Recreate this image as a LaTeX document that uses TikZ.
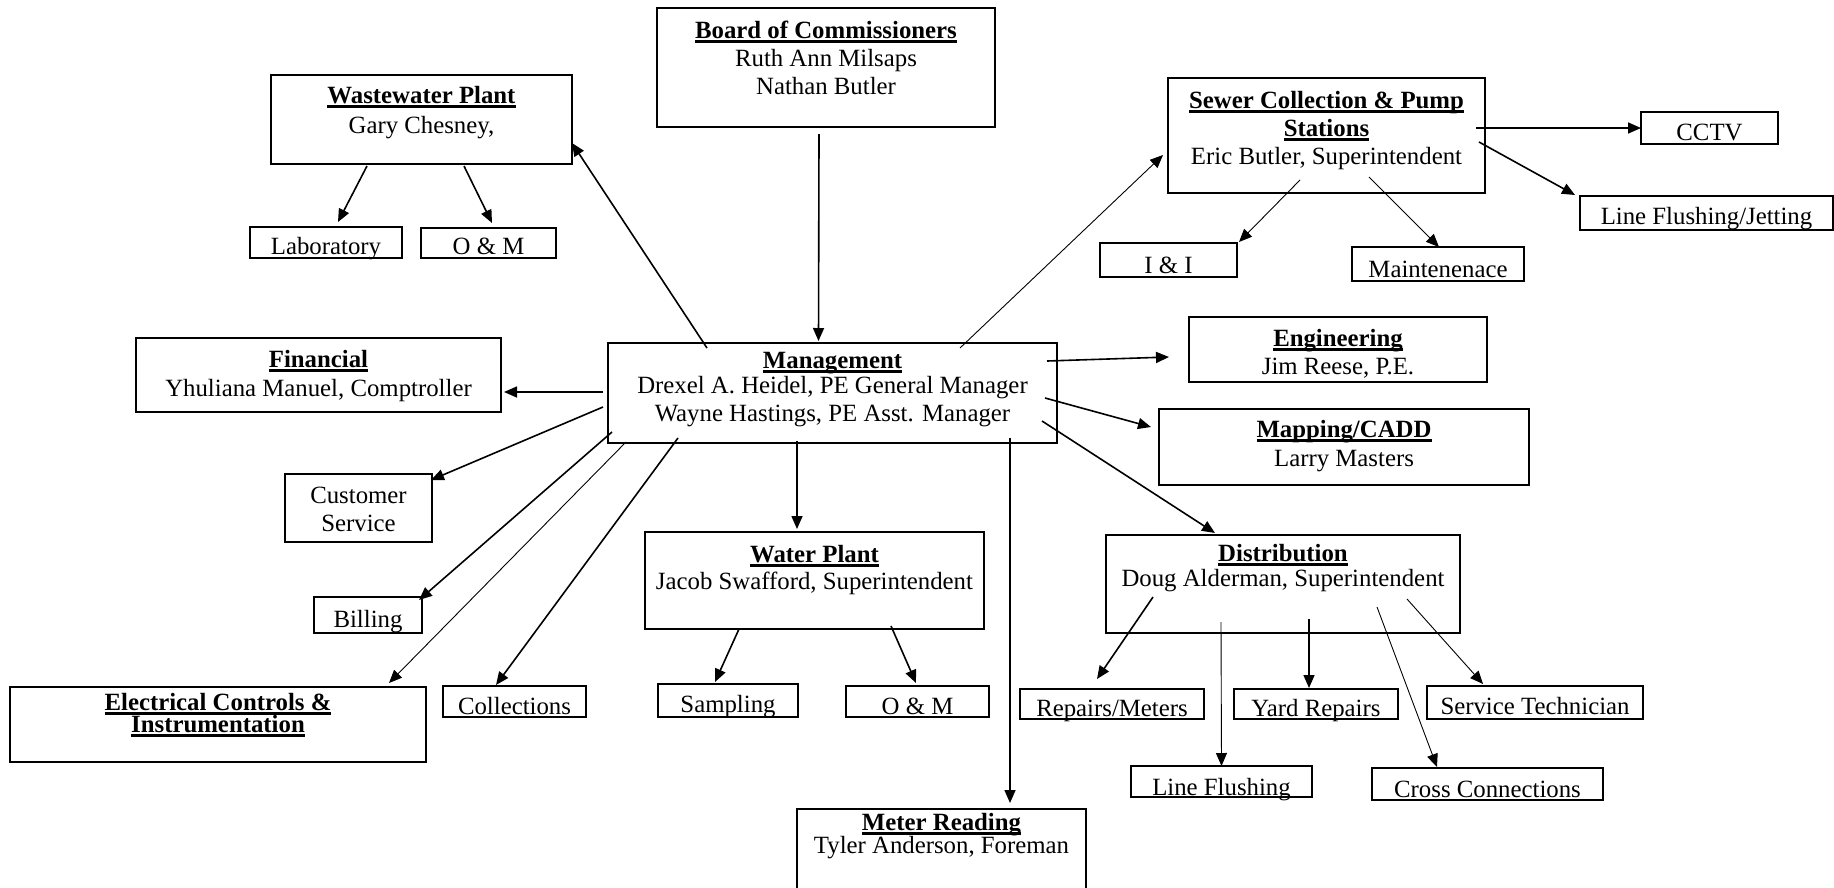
\documentclass[tikz,border=0pt]{standalone}
\usepackage{fontspec}
\setmainfont{Liberation Serif}
\usetikzlibrary{arrows.meta}
\newsavebox{\ttlbox}
\newcommand{\ttl}[1]{\sbox{\ttlbox}{\textbf{#1}}\rlap{\rule[-4.6pt]{\wd\ttlbox}{2.2pt}}\usebox{\ttlbox}}
\begin{document}
\begin{tikzpicture}[x=1pt,y=-1pt,
  unit/.style={draw, line width=1.6pt, inner sep=0pt, outer sep=0pt, align=center, font=\fontsize{24.8}{28}\selectfont},
  link/.style={line width=1.6pt, -{Triangle[length=13pt,width=11pt]}},
  thinlink/.style={link, line width=0.9pt}]
\useasboundingbox (0,0) rectangle (1834,887);
\node[unit, minimum width=338, text height=86, text depth=33](board) at (826,67.5){\ttl{Board of Commissioners}\\Ruth Ann Milsaps\\Nathan Butler};
\node[unit, minimum width=301, text height=58, text depth=31](ww) at (421.5,119.5){\ttl{Wastewater Plant}\\[2pt]Gary Chesney,};
\node[unit, minimum width=152, text height=27, text depth=4](lab) at (326,242.5){Laboratory};
\node[unit, minimum width=135, text height=26, text depth=4](wwom) at (488.5,243){O \& M};
\node[unit, minimum width=317, text height=86, text depth=29](sew) at (1326.5,135.5){\ttl{Sewer Collection \& Pump}\\\ttl{Stations}\\Eric Butler, Superintendent};
\node[unit, minimum width=137, text height=28, text depth=4](cctv) at (1709.5,128){CCTV};
\node[unit, minimum width=253, text height=28, text depth=6](lfj) at (1706.5,213){Line Flushing/Jetting};
\node[unit, minimum width=137, text height=30, text depth=4](ii) at (1168.5,260){I \& I};
\node[unit, minimum width=172, text height=30, text depth=4](mnt) at (1438,264){Maintenenace};
\node[unit, minimum width=365, text height=58, text depth=16](fin) at (318.5,375){\ttl{Financial}\\[1pt]Yhuliana Manuel, Comptroller};
\node[unit, minimum width=449, text height=78, text depth=22](mgmt) at (832.5,393){\ttl{Management}\\[-3pt]Drexel A. Heidel, PE General Manager\\Wayne Hastings, PE Asst. Manager};
\node[unit, minimum width=298, text height=57, text depth=8](eng) at (1338,349.5){\ttl{Engineering}\\Jim Reese, P.E.};
\node[unit, minimum width=370, text height=57, text depth=19](map) at (1344,447){\ttl{Mapping/CADD}\\[1pt]Larry Masters};
\node[unit, minimum width=147, text height=57, text depth=11](cs) at (358.5,508){Customer\\Service};
\node[unit, minimum width=339, text height=57, text depth=40](wp) at (814.5,580.5){\ttl{Water Plant}\\[-1pt]Jacob Swafford, Superintendent};
\node[unit, minimum width=354, text height=51, text depth=47](dist) at (1283,584){\ttl{Distribution}\\[-3pt]Doug Alderman, Superintendent};
\node[unit, minimum width=108, text height=30, text depth=6](bill) at (368,615){Billing};
\node[unit, minimum width=416, text height=45, text depth=30](elec) at (218,724.5){\ttl{Electrical Controls \&}\\[-6pt]\ttl{Instrumentation}};
\node[unit, minimum width=143, text height=28, text depth=3](coll) at (514.5,701.5){Collections};
\node[unit, minimum width=140, text height=28, text depth=5](samp) at (728,700.5){Sampling};
\node[unit, minimum width=143, text height=28, text depth=3](wpom) at (917.5,701.5){O \& M};
\node[unit, minimum width=184, text height=27, text depth=3](rep) at (1112,704){Repairs/Meters};
\node[unit, minimum width=164, text height=27, text depth=3](yard) at (1316,704){Yard Repairs};
\node[unit, minimum width=216, text height=28, text depth=5](svc) at (1535,702.5){Service Technician};
\node[unit, minimum width=181, text height=29, text depth=2](lfl) at (1221.5,781.5){Line Flushing};
\node[unit, minimum width=231, text height=29, text depth=3](cross) at (1487.5,784){Cross Connections};
\node[unit, minimum width=289, text height=44, text depth=38](meter) at (941.5,850){\ttl{Meter Reading}\\[-5pt]Tyler Anderson, Foreman};
\draw[link] ([shift={(-7,7)}]board.south) -- ([shift={(-14,-2)}]mgmt.north);
\draw[link] ([shift={(-125.5,5)}]mgmt.north) -- ([shift={(0,23.5)}]ww.east);
\draw[thinlink] ([shift={(127.5,5)}]mgmt.north) -- ([shift={(-5,19.5)}]sew.west);
\draw[link] ([shift={(-5,-1)}]mgmt.west) -- ([shift={(3,17)}]fin.east);
\draw[link] ([shift={(-5,14)}]mgmt.west) -- ([shift={(-1,6)}]cs.north east);
\draw[link] ([shift={(4,-11)}]mgmt.south west) -- ([shift={(-3,3)}]bill.north east);
\draw[thinlink] ([shift={(18,-1)}]mgmt.south west) -- ([shift={(-37,-4)}]elec.north east);
\draw[link] ([shift={(70,-5)}]mgmt.south west) -- ([shift={(-18.5,-1)}]coll.north);
\draw[link] ([shift={(-35.5,-2)}]mgmt.south) -- ([shift={(-17.5,-3)}]wp.north);
\draw[link] ([shift={(177.5,-5)}]mgmt.south) -- ([shift={(68.5,-6)}]meter.north);
\draw[link] ([shift={(-10,-32)}]mgmt.east) -- ([shift={(-20,7.5)}]eng.west);
\draw[link] ([shift={(-12,5)}]mgmt.east) -- ([shift={(-8,-20)}]map.west);
\draw[link] ([shift={(-15,28)}]mgmt.east) -- ([shift={(-68,-2)}]dist.north);
\draw[link] ([shift={(-54.5,2)}]ww.south) -- ([shift={(12,-5)}]lab.north);
\draw[link] ([shift={(42.5,2)}]ww.south) -- ([shift={(3.5,-5)}]wwom.north);
\draw[link] ([shift={(-9,-7.5)}]sew.east) -- (cctv.west);
\draw[link] ([shift={(-6,6.5)}]sew.east) -- ([shift={(-5,-1)}]lfj.north west);
\draw[thinlink] ([shift={(-26.5,-13)}]sew.south) -- ([shift={(2,-1)}]ii.north east);
\draw[thinlink] ([shift={(42.5,-16)}]sew.south) -- ([shift={(1,0)}]mnt.north);
\draw[link] ([shift={(-75.5,0)}]wp.south) -- ([shift={(-13,-2)}]samp.north);
\draw[link] ([shift={(76.5,-3)}]wp.south) -- ([shift={(-1.5,-3)}]wpom.north);
\draw[link] ([shift={(47,-36)}]dist.south west) -- ([shift={(-15,-10)}]rep.north);
\draw[thinlink] ([shift={(-62,-11)}]dist.south) -- (lfl.north);
\draw[link] ([shift={(26,-14)}]dist.south) -- ([shift={(-7,-1)}]yard.north);
\draw[thinlink] ([shift={(94,-26)}]dist.south) -- ([shift={(-50.5,-1)}]cross.north);
\draw[thinlink] ([shift={(124,-34)}]dist.south) -- ([shift={(-52,-2)}]svc.north);
\end{tikzpicture}
\end{document}
